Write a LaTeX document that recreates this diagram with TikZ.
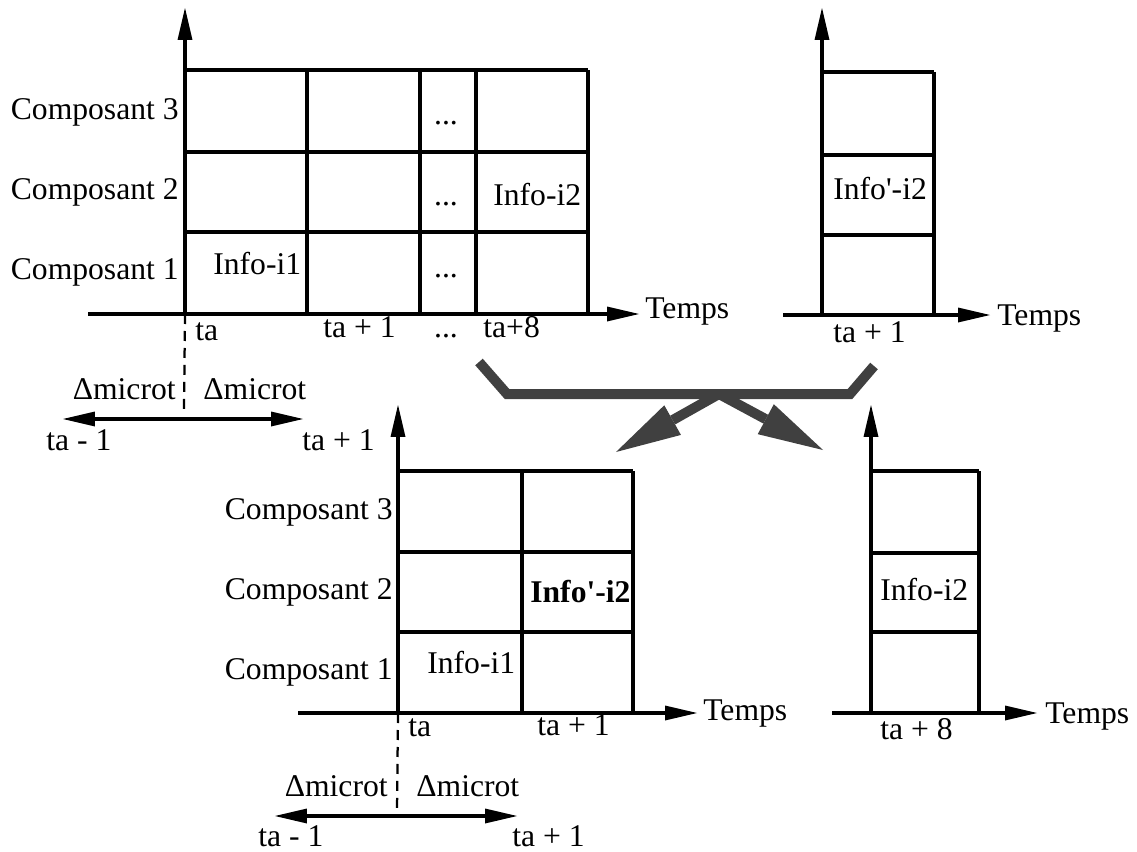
\documentclass[tikz,border=0pt]{standalone}
\usepackage{fontspec}
\setmainfont{Liberation Serif}
\newfontfamily\figfont{Liberation Serif}
\usetikzlibrary{arrows.meta}

\begin{document}
\begin{tikzpicture}[x=0.02cm,y=-0.02cm,
  font=\figfont\fontsize{18}{21}\selectfont,
  lbl/.style={inner sep=0pt,anchor=base west},
  lblr/.style={inner sep=0pt,anchor=base east},
  lblc/.style={inner sep=0pt,anchor=base},
  grid/.style={line width=0.065cm},
  axis/.style={line width=0.065cm,-{Triangle[length=0.64cm,width=0.3cm,line width=0pt]}},
  span/.style={line width=0.065cm,{Triangle[length=0.64cm,width=0.3cm,line width=0pt]}-{Triangle[length=0.64cm,width=0.3cm,line width=0pt]}},
  cut/.style={line width=0.045cm,dash pattern=on 0.2cm off 0.14cm},
  flow/.style={draw=black!75,line width=0.2cm},
  flowarr/.style={flow,-{Triangle[length=1.3cm,width=0.68cm,line width=0pt]}}]
\useasboundingbox (0,0) rectangle (1137,852);

% top left: ta .. ta+8
\foreach \y in {70,152,232} \draw[grid] (185,\y) -- (588,\y);
\foreach \x in {307,420,476,588} \draw[grid] (\x,70) -- (\x,314);
\coordinate (tlO) at (185,314);
\coordinate (tlT) at (185,8);
\coordinate (tlL) at (88,314);
\coordinate (tlR) at (639,314);
\coordinate (tlD) at (184,411);
\coordinate (tlA) at (63,419);
\coordinate (tlB) at (303,419);
\draw[axis] (tlO) -- (tlT);
\draw[axis] (tlL) -- (tlR);
\draw[cut] (tlO) -- (tlD);
\draw[span] (tlA) -- (tlB);
\node[lblr] (tlc3) at (179,119) {Composant 3};
\node[lblr] (tlc2) at (179,199) {Composant 2};
\node[lblr] (tlc1) at (179,279) {Composant 1};
\node[lbl] (tli1) at (213,274) {Info-i1};
\node[lbl] (tli2) at (493,205) {Info-i2};
\node[lblc] (tld3) at (446,124) {...};
\node[lblc] (tld2) at (446,205) {...};
\node[lblc] (tld1) at (446,277) {...};
\node[lbl] (tlta) at (195,340) {ta};
\node[lbl] (tlta1) at (323,337) {ta + 1};
\node[lblc] (tldt) at (446,337) {...};
\node[lbl] (tlta8) at (483,337) {ta+8};
\node[lbl] (tltemps) at (645,318) {Temps};
\node[lblr] (tlmu1) at (176,399) {Δmicrot};
\node[lbl] (tlmu2) at (203,399) {Δmicrot};
\node[lbl] (tlm1) at (46,450) {ta - 1};
\node[lbl] (tlp1) at (302,450) {ta + 1};

% top right: ta + 1
\foreach \y in {72,155,235} \draw[grid] (822,\y) -- (934,\y);
\draw[grid] (934,72) -- (934,315);
\coordinate (trO) at (822,315);
\coordinate (trT) at (822,8);
\coordinate (trL) at (783,315);
\coordinate (trR) at (990,315);
\draw[axis] (trO) -- (trT);
\draw[axis] (trL) -- (trR);
\node[lbl] (tri2) at (833,199) {Info\textquotesingle-i2};
\node[lbl] (trta1) at (833,342) {ta + 1};
\node[lbl] (trtemps) at (997,325) {Temps};

% gray bracket and the two arrows
\coordinate (bkL) at (479,362);
\coordinate (bkLc) at (507,394);
\coordinate (bkRc) at (850,394);
\coordinate (bkR) at (874,366);
\coordinate (hub) at (719,394);
\coordinate (toBM) at (616,452);
\coordinate (toBR) at (823,450);
\draw[flow] (bkL) -- (bkLc) -- (bkRc) -- (bkR);
\draw[flowarr] (hub) -- (toBM);
\draw[flowarr] (hub) -- (toBR);

% bottom middle: ta, ta + 1
\foreach \y in {471,552,632} \draw[grid] (398,\y) -- (633,\y);
\foreach \x in {522,633} \draw[grid] (\x,471) -- (\x,713);
\coordinate (bmO) at (398,713);
\coordinate (bmT) at (398,405);
\coordinate (bmL) at (298,713);
\coordinate (bmR) at (697,713);
\coordinate (bmD) at (397,812);
\coordinate (bmA) at (275,816);
\coordinate (bmB) at (517,816);
\draw[axis] (bmO) -- (bmT);
\draw[axis] (bmL) -- (bmR);
\draw[cut] (bmO) -- (bmD);
\draw[span] (bmA) -- (bmB);
\node[lblr] (bmc3) at (393,519) {Composant 3};
\node[lblr] (bmc2) at (393,599) {Composant 2};
\node[lblr] (bmc1) at (393,679) {Composant 1};
\node[lbl] (bmi1) at (427,673) {Info-i1};
\node[lbl] (bmi2) at (530,602) {\textbf{Info\textquotesingle-i2}};
\node[lbl] (bmta) at (408,736) {ta};
\node[lbl] (bmta1) at (537,735) {ta + 1};
\node[lbl] (bmtemps) at (703,720) {Temps};
\node[lblr] (bmmu1) at (388,796) {Δmicrot};
\node[lbl] (bmmu2) at (416,796) {Δmicrot};
\node[lbl] (bmm1) at (258,846) {ta - 1};
\node[lbl] (bmp1) at (512,846) {ta + 1};

% bottom right: ta + 8
\foreach \y in {471,553,632} \draw[grid] (871,\y) -- (979,\y);
\draw[grid] (979,471) -- (979,713);
\coordinate (brO) at (871,713);
\coordinate (brT) at (871,405);
\coordinate (brL) at (832,713);
\coordinate (brR) at (1037,713);
\draw[axis] (brO) -- (brT);
\draw[axis] (brL) -- (brR);
\node[lbl] (bri2) at (880,600) {Info-i2};
\node[lbl] (brta8) at (880,739) {ta + 8};
\node[lbl] (brtemps) at (1045,723) {Temps};
\end{tikzpicture}
\end{document}
